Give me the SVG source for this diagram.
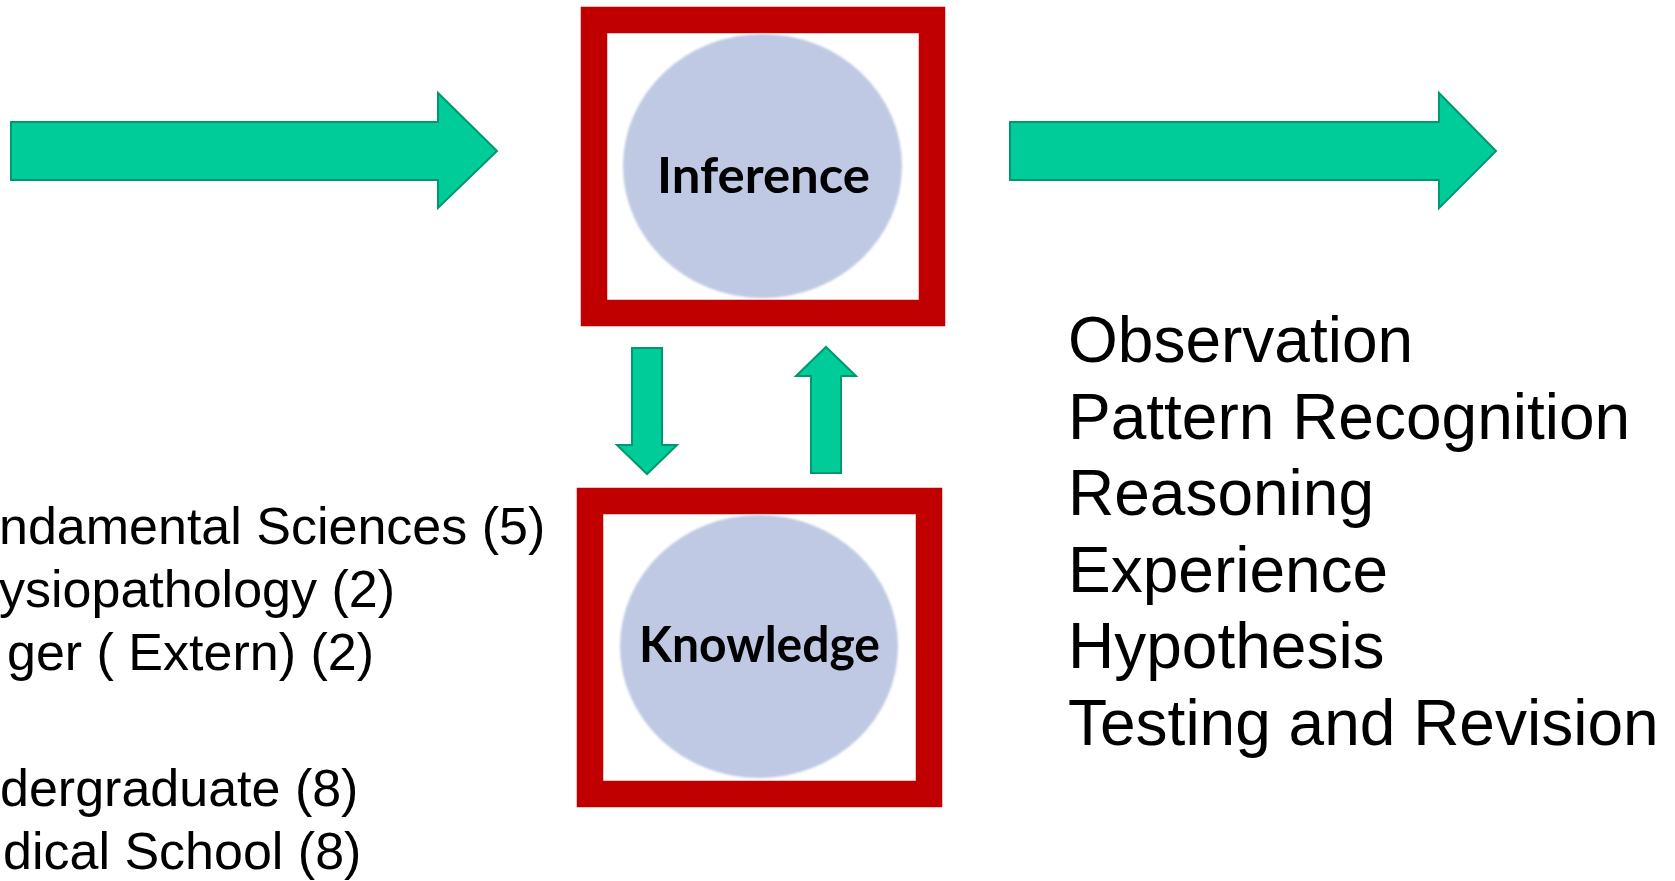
<svg xmlns="http://www.w3.org/2000/svg" width="1675" height="881" viewBox="0 0 1675 881">
  <defs>
    <filter id="soft" x="-5%" y="-5%" width="110%" height="110%">
      <feGaussianBlur stdDeviation="0.8"/>
    </filter>
  </defs>
  <style>
    .frame { fill: #ffffff; stroke: #c00000; stroke-width: 26.5; }
    .bubble { fill: #bfc9e3; filter: url(#soft); }
    .label { font-family: Lato, "Open Sans", "Noto Sans", sans-serif; font-weight: 700; font-size: 50px; fill: #000000; text-anchor: middle; }
    .flow { fill: #00cc99; stroke: #00996f; stroke-width: 2; stroke-linejoin: miter; }
    .list { font-family: "Liberation Sans", Arial, sans-serif; fill: #000000; }
    .left { font-size: 52px; }
    .right { font-size: 64px; }
  </style>

  <rect width="1675" height="881" fill="#ffffff"/>

  <!-- Block arrows -->
  <g id="connectors">
    <path class="flow" d="M11,122 L438,122 L438,93 L497,151 L438,208 L438,180 L11,180 Z"/>
    <path class="flow" d="M1010,122 L1439,122 L1439,93 L1496,151 L1439,208 L1439,180 L1010,180 Z"/>
    <path class="flow" d="M632,348 L662,348 L662,445 L677,445 L647,474 L617,445 L632,445 Z"/>
    <path class="flow" d="M811,473 L841,473 L841,376 L856,376 L826,347 L796,376 L811,376 Z"/>
  </g>

  <!-- Inference node -->
  <g id="inference">
    <rect class="frame" x="594" y="20" width="338" height="293"/>
    <ellipse class="bubble" cx="762.5" cy="166" rx="139.5" ry="132"/>
    <text class="label" x="763.5" y="193" textLength="213" lengthAdjust="spacingAndGlyphs">Inference</text>
  </g>

  <!-- Knowledge node -->
  <g id="knowledge">
    <rect class="frame" x="590" y="501" width="339" height="293"/>
    <ellipse class="bubble" cx="759" cy="646.5" rx="139" ry="131.5"/>
    <text class="label" x="759.5" y="662" textLength="241" lengthAdjust="spacingAndGlyphs">Knowledge</text>
  </g>

  <!-- Knowledge sources (left list) -->
  <g id="sources" class="list left">
    <text x="-1" y="544">ndamental Sciences (5)</text>
    <text x="-1" y="607">ysiopathology (2)</text>
    <text x="7" y="670">ger ( Extern) (2)</text>
    <text x="0" y="806">dergraduate (8)</text>
    <text x="3" y="869">dical School (8)</text>
  </g>

  <!-- Reasoning steps (right list) -->
  <g id="steps" class="list right">
    <text x="1068" y="362">Observation</text>
    <text x="1068" y="438.5">Pattern Recognition</text>
    <text x="1068" y="515">Reasoning</text>
    <text x="1068" y="591.5">Experience</text>
    <text x="1068" y="668">Hypothesis</text>
    <text x="1068" y="744.5">Testing and Revision</text>
  </g>
</svg>
